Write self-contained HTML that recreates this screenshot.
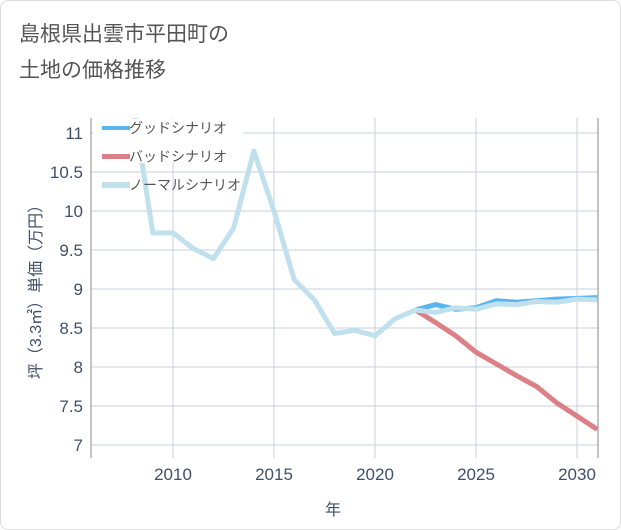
<!DOCTYPE html>
<html><head><meta charset="utf-8"><style>
body{margin:0;background:#fff;font-family:"Liberation Sans","Noto Sans CJK JP",sans-serif;}
#wrap{position:relative;width:619px;height:528px;border:1px solid #ddd;border-radius:8px;overflow:hidden;}
</style></head><body>
<div id="wrap">
<svg id="c" width="621" height="530">
<text x="18" y="40" font-size="21" fill="#555">島根県出雲市平田町の</text>
<text x="18" y="76" font-size="21" fill="#555">土地の価格推移</text>
<g id="grid"></g><g id="series"></g>
<g id="legend"></g>
<text x="332" y="514" font-size="16" fill="#40506a" text-anchor="middle">年</text>
<text transform="translate(40,287) rotate(-90)" font-size="16" fill="#40506a" text-anchor="middle">坪（3.3㎡）単価（万円）</text>
</svg></div>
<script>
const years=[2008,2009,2010,2011,2012,2013,2014,2015,2016,2017,2018,2019,2020,2021,2022,2023,2024,2025,2026,2027,2028,2029,2030,2031];
const normal=[11.4,9.72,9.72,9.52,9.39,9.78,10.77,10.0,9.12,8.86,8.43,8.47,8.40,8.62,8.73,8.70,8.76,8.74,8.81,8.80,8.84,8.83,8.87,8.86];
const goodYears=[2022,2023,2024,2025,2026,2027,2028,2029,2030,2031];
const good=[8.73,8.80,8.74,8.76,8.85,8.83,8.85,8.87,8.88,8.89];
const bad=[8.73,8.57,8.40,8.19,8.04,7.89,7.75,7.54,7.37,7.20];
const xTicks=[2010,2015,2020,2025,2030];
const yTicks=[7,7.5,8,8.5,9,9.5,10,10.5,11];
const L=90,R=597,T=117,B=457;
const X=y=>172+(y-2010)*20.2;
const Y=v=>444-(v-7)*78;
const NS='http://www.w3.org/2000/svg';
function mk(t,a,p){const e=document.createElementNS(NS,t);for(const k in a)e.setAttribute(k,a[k]);p.appendChild(e);return e;}
const g=document.getElementById('grid');
yTicks.forEach(v=>{
 const l=mk('line',{x1:L,x2:R,y1:Y(v),y2:Y(v),stroke:'#c8d0da','stroke-width':1},g);
 
 
 const t=mk('text',{x:L-8,y:Y(v)+6,'font-size':17,fill:'#40506a','text-anchor':'end'},g);
 t.textContent=v;
 
 
});
xTicks.forEach(v=>{
 const l=mk('line',{x1:X(v),x2:X(v),y1:T,y2:B,stroke:'#c8d0da','stroke-width':1},g);
 
 
 const t=mk('text',{x:X(v),y:B+22,'font-size':17,fill:'#40506a','text-anchor':'middle'},g);
 t.textContent=v;
 
 
});
const ax=mk('line',{x1:L,x2:L,y1:T,y2:B,stroke:'#888'},g);


const ax2=mk('line',{x1:R,x2:R,y1:T,y2:B,stroke:'#888'},g);


const s=document.getElementById('series');
const cp=mk('clipPath',{id:'clip'},s);
mk('rect',{x:L,y:T,width:R-L,height:B-T},cp);
function line(xs,vs,color,w,name){
 const p=mk('polyline',{points:xs.map((x,i)=>X(x)+','+Y(vs[i])).join(' '),fill:'none',stroke:color,'stroke-width':w,'stroke-linejoin':'round','clip-path':'url(#clip)'},s);
 
 
}
line(goodYears,good,'#5ab4f0',5,'good-scenario-line');
line(goodYears,bad,'#dc8088',5,'bad-scenario-line');
line(years,normal,'#bfe0ec',5,'normal-scenario-line');
const lg=document.getElementById('legend');
const bg=mk('rect',{x:92,y:118,width:150,height:44,fill:'#fff'},lg);


[['グッドシナリオ','#5ab4f0',4,'legend-good'],['バッドシナリオ','#dc8088',5,'legend-bad'],['ノーマルシナリオ','#bfe0ec',6,'legend-normal']].forEach((d,i)=>{
 const y=126+i*28.5;
 const l=mk('line',{x1:101,x2:129,y1:y+1,y2:y+1,stroke:d[1],'stroke-width':d[2]},lg);
 
 
 const t=mk('text',{x:128,y:y+6,'font-size':14,fill:'#555'},lg);
 t.textContent=d[0];
 
 
});
</script>
</body></html>
